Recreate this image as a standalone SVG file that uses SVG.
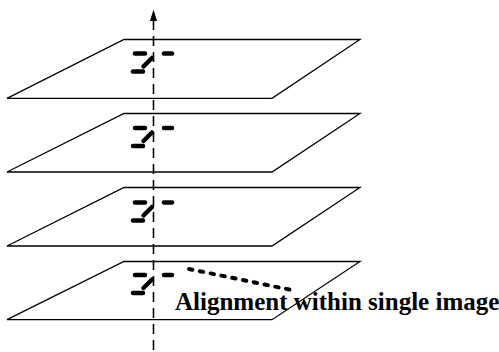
<svg xmlns="http://www.w3.org/2000/svg" width="499" height="352" viewBox="0 0 499 352">
<style>
.plane{fill:#fff;stroke:#000;stroke-width:1.3}
.bar{stroke:#000;stroke-width:4.5;stroke-linecap:round;fill:none}
.axis{stroke:#000;stroke-width:1.6;stroke-dasharray:10 6;fill:none}
.dots{stroke:#000;stroke-width:4;stroke-linecap:round;stroke-dasharray:3.5 7.5;fill:none}
.lbl{font-family:"Liberation Serif","Times New Roman",serif;font-weight:bold;font-size:25px;fill:#000}
</style>
<defs>
<g id="mk">
<line class="bar" x1="135" y1="0" x2="145" y2="0"/>
<line class="bar" x1="164" y1="0" x2="172" y2="0"/>
<line class="bar" x1="152" y1="4.5" x2="143.5" y2="13"/>
<line class="bar" x1="133" y1="18" x2="143" y2="18"/>
</g>
</defs>
<g id="plane1">
<polygon class="plane" points="124,39.5 360,39.5 272,98.3 7,98.3"/>
<use href="#mk" y="53.5"/>
</g>
<g id="plane2">
<polygon class="plane" points="124,113.5 360,113.5 272,172 7,172"/>
<use href="#mk" y="128"/>
</g>
<g id="plane3">
<polygon class="plane" points="124,187.5 360,187.5 272,246 7,246"/>
<use href="#mk" y="202.5"/>
</g>
<g id="plane4">
<polygon class="plane" points="124,261.5 360,261.5 272,319.7 7,319.7"/>
<use href="#mk" y="275"/>
</g>
<g id="connectors">
<line class="axis" x1="153.5" y1="20" x2="153.5" y2="352"/>
<polygon points="153.5,9.5 157,21 150,21" fill="#000"/>
<line class="dots" x1="189" y1="269" x2="294" y2="290.5"/>
</g>
<g id="label">
<text class="lbl" x="175" y="310">Alignment within single image</text>
</g>
</svg>
